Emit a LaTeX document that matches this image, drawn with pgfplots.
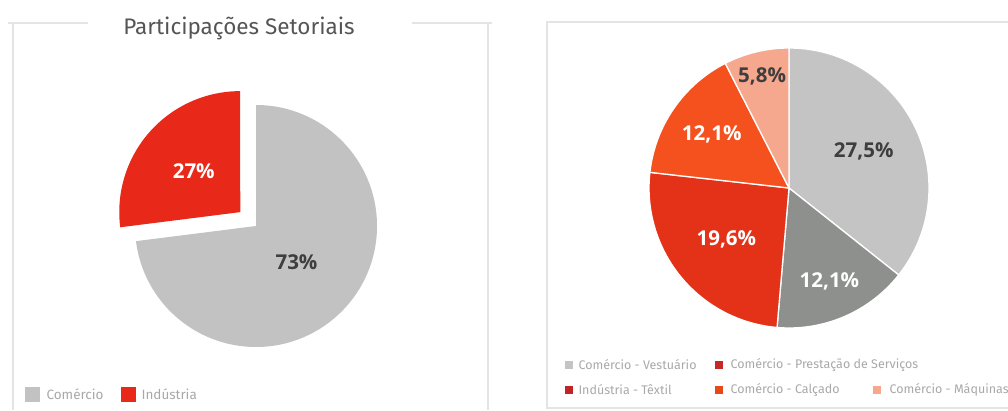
\documentclass[border=0pt]{standalone}
\usepackage{fontspec}
\setmainfont{Fira Sans}
\newfontfamily\labfamily{Open Sans}
\usepackage{pgfplots}
\usepackage{pgfplotstable}
\pgfplotsset{compat=1.18}
\definecolor{frameC}{HTML}{E4E4E4}
\definecolor{titleC}{HTML}{555555}
\definecolor{legC}{HTML}{A8A8A8}
\definecolor{txtDark}{HTML}{3E3E3E}
\definecolor{gLeft}{HTML}{C2C2C2}
\definecolor{rLeft}{HTML}{E8291A}
\definecolor{gLight}{HTML}{C4C4C4}
\definecolor{gDark}{HTML}{8E908E}
\definecolor{rRight}{HTML}{E43218}
\definecolor{oRight}{HTML}{F4511E}
\definecolor{sRight}{HTML}{F6A88E}
\definecolor{legServ}{HTML}{C62828}
\definecolor{legTex}{HTML}{C02424}
\definecolor{legCal}{HTML}{E64A19}

\newcommand\labfont{\labfamily\fontsize{20.5}{20.5}\selectfont\bfseries}

% slices: value, fill colour, label colour, label distance (pt), explode (pt), label text
\pgfplotstableread{
val col lcol lr ex lab
73 gLeft txtDark 54 0 73
27 rLeft white 62 21 27
}\leftdata

\pgfplotstableread{
val col lcol lr ex lab
27.5 gLight txtDark 83 0 27,5
12.1 gDark white 102 0 12,1
19.6 rRight white 81 0 19,6
12.1 oRight white 94 0 12,1
5.8 sRight txtDark 115 0 5,8
}\rightdata

% #1 table, #2 cx, #3 cy, #4 radius, #5 stroke options
\newcommand\drawpie[5]{%
  \pgfplotstablegetrowsof{#1}\pgfmathtruncatemacro\pieN{\pgfplotsretval-1}%
  \gdef\pietotal{0}%
  \foreach \i in {0,...,\pieN}{%
    \pgfplotstablegetelem{\i}{val}\of#1%
    \pgfmathsetmacro\t{\pietotal+\pgfplotsretval}\xdef\pietotal{\t}}%
  \gdef\pieang{90}%
  \foreach \i in {0,...,\pieN}{%
    \pgfplotstablegetelem{\i}{val}\of#1\let\pv\pgfplotsretval
    \pgfplotstablegetelem{\i}{col}\of#1\let\pc\pgfplotsretval
    \pgfplotstablegetelem{\i}{lcol}\of#1\let\plc\pgfplotsretval
    \pgfplotstablegetelem{\i}{lr}\of#1\let\plr\pgfplotsretval
    \pgfplotstablegetelem{\i}{ex}\of#1\let\pex\pgfplotsretval
    \pgfplotstablegetelem{\i}{lab}\of#1\let\plab\pgfplotsretval
    \pgfmathsetmacro\pend{\pieang-\pv/\pietotal*360}%
    \pgfmathsetmacro\pmid{(\pieang+\pend)/2}%
    \edef\cmd{%
      \noexpand\fill[\pc,#5] (axis cs:#2,#3) ++(\pmid:\pex pt) -- ++(\pieang:#4pt)
        arc[start angle=\pieang, end angle=\pend, radius=#4pt] -- cycle;
      \noexpand\path (axis cs:#2,#3) ++(\pmid:\pex pt) ++(\pmid:\plr pt)
        node[text=\plc, font=\noexpand\labfont] {\plab\noexpand\%};}%
    \cmd
    \xdef\pieang{\pend}}}

\begin{document}
\begin{tikzpicture}
\begin{axis}[name=ax, x=1pt, y=1pt, xmin=0, xmax=1008, ymin=0, ymax=410,
  hide axis, clip=false]
% panel frames
\addplot[frameC, line width=1.2pt, mark=none] coordinates {(8,387) (88,387)};
\addplot[frameC, line width=1.2pt, mark=none] coordinates {(412,387) (492,387)};
\addplot[frameC, line width=1.2pt, mark=none] coordinates {(13,386) (13,0)};
\addplot[frameC, line width=1.2pt, mark=none] coordinates {(488,386) (488,0)};
\addplot[frameC, line width=1.2pt, mark=none] coordinates {(1008,2) (547,2) (547,388) (1008,388)};

% title
\node[text=titleC, font=\fontsize{22.5}{22.5}\selectfont] at (axis cs:239,382) {Participações Setoriais};

% pies
\drawpie{\leftdata}{256}{184}{121}{draw=none}
\drawpie{\rightdata}{789}{222}{140}{draw=white, line width=1.3pt}

% left legend
\addplot[only marks, mark=square*, mark size=7pt, draw=gLeft, fill=gLeft] coordinates {(32,15.5)};
\addplot[only marks, mark=square*, mark size=7pt, draw=rLeft, fill=rLeft] coordinates {(128,15.5)};
\node[anchor=west, text=legC, font=\fontsize{13.5}{13.5}\selectfont] at (axis cs:43,15.5) {Comércio};
\node[anchor=west, text=legC, font=\fontsize{13.5}{13.5}\selectfont] at (axis cs:138,15.5) {Indústria};

% right legend
\addplot[only marks, mark=square*, mark size=3.6pt, draw=gLight, fill=gLight] coordinates {(568.5,45.5)};
\addplot[only marks, mark=square*, mark size=3.6pt, draw=legServ, fill=legServ] coordinates {(718.5,45.5)};
\addplot[only marks, mark=square*, mark size=3.6pt, draw=legTex, fill=legTex] coordinates {(568.5,20)};
\addplot[only marks, mark=square*, mark size=3.6pt, draw=legCal, fill=legCal] coordinates {(718.5,20)};
\addplot[only marks, mark=square*, mark size=3.6pt, draw=sRight, fill=sRight] coordinates {(876.5,20)};
\node[anchor=west, text=legC, font=\fontsize{12.5}{12.5}\selectfont] at (axis cs:575,45.5) {Comércio - Vestuário};
\node[anchor=west, text=legC, font=\fontsize{12.5}{12.5}\selectfont] at (axis cs:727,45.5) {Comércio - Prestação de Serviços};
\node[anchor=west, text=legC, font=\fontsize{12.5}{12.5}\selectfont] at (axis cs:575,20) {Indústria - Têxtil};
\node[anchor=west, text=legC, font=\fontsize{12.5}{12.5}\selectfont] at (axis cs:727,20) {Comércio - Calçado};
\node[anchor=west, text=legC, font=\fontsize{12.5}{12.5}\selectfont] at (axis cs:886,20) {Comércio - Máquinas};
\end{axis}
\pgfresetboundingbox
\path (ax.south west) rectangle (ax.north east);
\end{tikzpicture}
\end{document}
